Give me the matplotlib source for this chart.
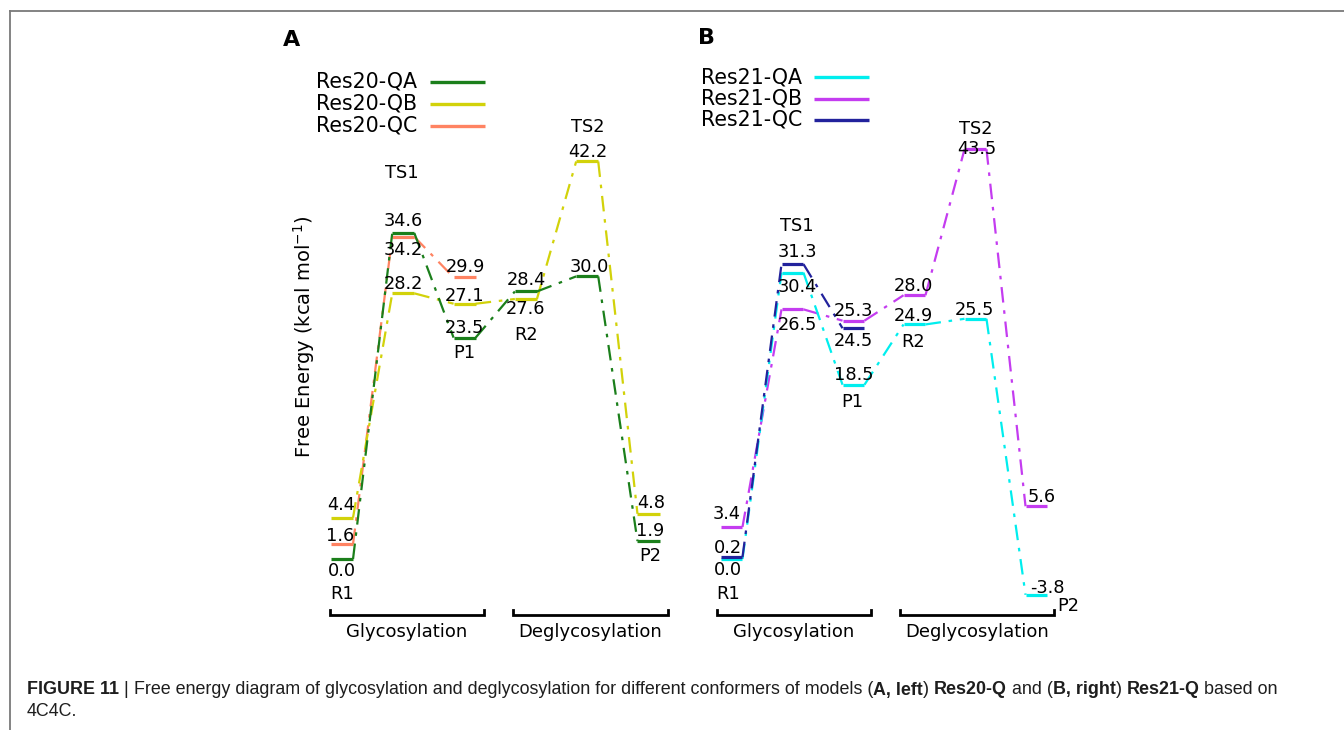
import matplotlib
matplotlib.use("Agg")
import matplotlib.pyplot as plt
from matplotlib.lines import Line2D

# ---------------- data ----------------
states = ["R1", "TS1", "P1", "R2", "TS2", "P2"]
stages = ["Glycosylation", "Deglycosylation"]

res20_names = ["Res20-QA", "Res20-QB", "Res20-QC"]
res20_qa = [0.0, 34.6, 23.5, 28.4, 30.0, 1.9]
res20_qb = [4.4, 28.2, 27.1, 27.6, 42.2, 4.8]
res20_qc = [1.6, 34.2, 29.9]

res21_names = ["Res21-QA", "Res21-QB", "Res21-QC"]
res21_qa = [0.0, 30.4, 18.5, 24.9, 25.5, -3.8]
res21_qb = [3.4, 26.5, 25.3, 28.0, 43.5, 5.6]
res21_qc = [0.2, 31.3, 24.5]

# ---------------- styles / layout ----------------
W, H, DPI = 1344, 730, 100
FONT = "DejaVu Sans"
plt.rcParams["font.family"] = [FONT]
plt.rcParams["mathtext.fontset"] = "dejavusans"

col20 = ["#1b7f1b", "#d2d20a", "#ff8362"]
col21 = ["#00eeee", "#c43cf0", "#22229c"]

Y0, PPU = 559.0, 9.42      # pixel row of 0 kcal/mol, pixels per kcal/mol
HALF = 0.18                # half width of an energy level (state units)
VAL_FS, LEG_FS, STG_FS = 12.8, 14.8, 13.0

fig = plt.figure(figsize=(W / DPI, H / DPI), dpi=DPI)
fig.patch.set_facecolor("white")


def fx(px):
    return px / W


def fy(py):
    return 1 - py / H


def add_panel_axes(x0, dx, left_i=-1.2, right_i=6.0, top=80, bottom=665):
    lpx = x0 + left_i * dx
    rpx = x0 + right_i * dx
    ax = fig.add_axes([fx(lpx), fy(bottom), (rpx - lpx) / W, (bottom - top) / H])
    ax.set_xlim(left_i, right_i)
    ax.set_ylim((Y0 - bottom) / PPU, (Y0 - top) / PPU)
    ax.axis("off")
    return ax


def draw_series(ax, values, color, z):
    xs = list(range(len(values)))
    for i, v in zip(xs, values):
        ax.plot([i - HALF, i + HALF], [v, v], color=color, lw=2.3,
                solid_capstyle="butt", zorder=z + 1, clip_on=False)
    for i in xs[:-1]:
        ax.plot([i + HALF, i + 1 - HALF], [values[i], values[i + 1]],
                color=color, lw=1.6, dashes=(7, 3.5, 1.6, 3.5),
                zorder=z, clip_on=False)


def label_values(ax, values, offsets):
    for i, (v, (ox, oy)) in enumerate(zip(values, offsets)):
        ax.annotate(f"{v:.1f}", xy=(i, v), xytext=(ox, oy),
                    textcoords="offset pixels", ha="center", va="center",
                    fontsize=VAL_FS, color="black", zorder=10,
                    annotation_clip=False)


def state_labels(ax, positions):
    for name, (xi, e) in zip(states, positions):
        ax.text(xi, e, name, ha="center", va="center", fontsize=VAL_FS,
                color="black", clip_on=False)


def stage_brackets(ax, spans, e_line, e_text):
    for name, (a, b) in zip(stages, spans):
        ax.plot([a, a, b, b], [e_line + 0.55, e_line, e_line, e_line + 0.55],
                color="black", lw=2.0, clip_on=False, solid_joinstyle="miter")
        ax.text((a + b) / 2 + 0.0, e_text, name, ha="center", va="center",
                fontsize=STG_FS, color="black", clip_on=False)


def draw_legend(names, colors, text_right, lx0, lx1, rows):
    for name, c, y in zip(names, colors, rows):
        fig.text(fx(text_right), fy(y), name, ha="right", va="center",
                 fontsize=LEG_FS, color="black")
        fig.add_artist(Line2D([fx(lx0), fx(lx1)], [fy(y), fy(y)],
                              color=c, lw=2.4, solid_capstyle="butt"))


# ---------------- panel A ----------------
axA = add_panel_axes(342.0, 61.3)
draw_series(axA, res20_qc, col20[2], 2)
draw_series(axA, res20_qb, col20[1], 4)
draw_series(axA, res20_qa, col20[0], 6)
label_values(axA, res20_qa, [(0, -12), (0, 12), (0, 10), (0, 11.5), (2, 9), (2, 10)])
label_values(axA, res20_qb, [(-1, 13), (0, 9.5), (0, 8), (0, -10), (1, 9), (3, 10.5)])
label_values(axA, res20_qc, [(-2, 8), (0, -13), (1, 10)])
state_labels(axA, [(0.0, -3.7), (0.98, 41.0), (2.0, 21.9), (3.0, 23.8),
                   (4.01, 45.9), (5.03, 0.3)])
stage_brackets(axA, [(-0.19, 2.31), (2.79, 5.31)], -5.93, -7.75)

# ---------------- panel B ----------------
axB = add_panel_axes(731.5, 61.0)
draw_series(axB, res21_qb, col21[1], 2)
draw_series(axB, res21_qa, col21[0], 4)
draw_series(axB, res21_qc, col21[2], 6)
label_values(axB, res21_qa, [(-3.5, -11), (4.5, -14), (0, 10), (-1, 8), (-1, 9), (10.5, 7)])
label_values(axB, res21_qb, [(-4.5, 13), (4.5, -16), (0, 10), (-1, 9), (1, 0), (5.5, 9)])
label_values(axB, res21_qc, [(-3.5, 9.5), (4.5, 12), (0, -13)])
state_labels(axB, [(-0.06, -3.7), (1.07, 35.4), (1.98, 16.7), (2.98, 23.0),
                   (4.01, 45.6), (5.52, -5.0)])
stage_brackets(axB, [(-0.24, 2.29), (2.76, 5.29)], -5.93, -7.75)

# ---------------- legends, panel letters, axis label ----------------
draw_legend(res20_names, col20, 417, 430, 485, [82, 104, 126])
draw_legend(res21_names, col21, 802, 814, 869, [77, 98.5, 120])

fig.text(fx(292), fy(40), "A", ha="center", va="center", fontsize=16,
         fontweight="bold")
fig.text(fx(707), fy(38), "B", ha="center", va="center", fontsize=16,
         fontweight="bold")
fig.text(fx(304), fy(337), "Free Energy (kcal mol$^{-1}$)", rotation=90,
         ha="center", va="center", fontsize=14)

# ---------------- frame ----------------
fig.add_artist(Line2D([fx(9.5), 1.0], [fy(10.5), fy(10.5)], color="#7a7a7a", lw=1.3))
fig.add_artist(Line2D([fx(9.5), fx(9.5)], [fy(10.5), 0.0], color="#7a7a7a", lw=1.3))

# ---------------- caption ----------------
cap_parts = [("FIGURE 11", "bold"), (" | ", "normal"),
             ("Free energy diagram of glycosylation and deglycosylation for "
              "different conformers of models (", "normal"),
             ("A, left", "bold"), (") ", "normal"), ("Res20-Q", "bold"),
             (" and (", "normal"), ("B, right", "bold"), (") ", "normal"),
             ("Res21-Q", "bold"), (" based on", "normal")]
CAP_FAMILY = "Liberation Sans"
renderer = fig.canvas.get_renderer()


def rich_line(x_px, y_px, parts, size, color="#1e1e1e"):
    x = x_px
    arts = []
    for txt, weight in parts:
        t = fig.text(fx(x), fy(y_px), txt, fontsize=size, fontweight=weight,
                     family=CAP_FAMILY, ha="left", va="center", color=color)
        bb = t.get_window_extent(renderer)
        x += bb.width
        arts.append(t)
    return arts, x - x_px


probe, width = rich_line(27, 690, cap_parts, 10)
for a in probe:
    a.remove()
cap_size = 10 * 1253 / width
rich_line(27, 690, cap_parts, cap_size)
rich_line(27, 712, [("4C4C.", "normal")], cap_size)

fig.savefig("out.png", dpi=DPI, facecolor="white")
